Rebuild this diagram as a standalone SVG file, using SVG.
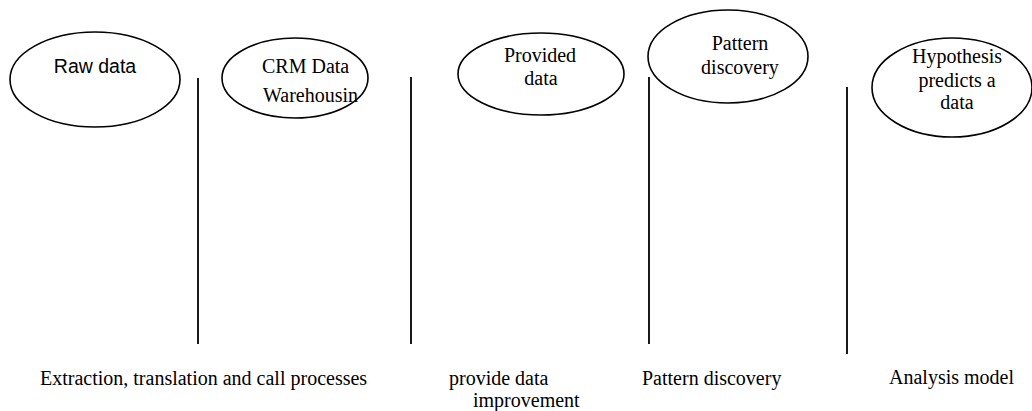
<svg xmlns="http://www.w3.org/2000/svg" width="1032" height="411" viewBox="0 0 1032 411">
<style>
.n ellipse{fill:#fff;stroke:#000;stroke-width:1.6}
.t{font-family:"Liberation Serif","Times New Roman",serif;font-size:20px;fill:#000}
.s{font-family:"Liberation Sans",Arial,sans-serif;font-size:19.5px;fill:#000}
.c line{stroke:#000;stroke-width:1.8}
</style>
<rect width="1032" height="411" fill="#fff"/>
<g id="connectors" class="c">
<line x1="198" y1="78" x2="198" y2="344"/>
<line x1="411" y1="77" x2="411" y2="344"/>
<line x1="649" y1="77" x2="649" y2="344"/>
<line x1="847" y1="87" x2="847" y2="354"/>
</g>
<g id="raw" class="n"><ellipse cx="95" cy="79.5" rx="85" ry="47.5"/><text class="s" x="95" y="73" text-anchor="middle">Raw data</text></g>
<g id="crm" class="n"><ellipse cx="295" cy="78" rx="73" ry="40"/><text class="t" x="262" y="73">CRM Data</text><text class="t" x="263" y="101.5">Warehousin</text></g>
<g id="provided" class="n"><ellipse cx="541" cy="74" rx="83" ry="41"/><text class="t" x="540" y="62" text-anchor="middle">Provided</text><text class="t" x="541" y="85" text-anchor="middle">data</text></g>
<g id="pattern" class="n"><ellipse cx="728" cy="56.5" rx="80" ry="46.5"/><text class="t" x="740" y="50" text-anchor="middle">Pattern</text><text class="t" x="740" y="74" text-anchor="middle">discovery</text></g>
<g id="hypothesis" class="n"><ellipse cx="952" cy="87.5" rx="80" ry="49.5"/><text class="t" x="957" y="63" text-anchor="middle">Hypothesis</text><text class="t" x="957" y="87" text-anchor="middle">predicts a</text><text class="t" x="957" y="109" text-anchor="middle">data</text></g>
<g id="labels">
<text class="t" x="40" y="385">Extraction, translation and call processes</text>
<text class="t" x="449" y="385">provide data</text>
<text class="t" x="473" y="407">improvement</text>
<text class="t" x="642" y="385">Pattern discovery</text>
<text class="t" x="889" y="384">Analysis model</text>
</g>
</svg>
